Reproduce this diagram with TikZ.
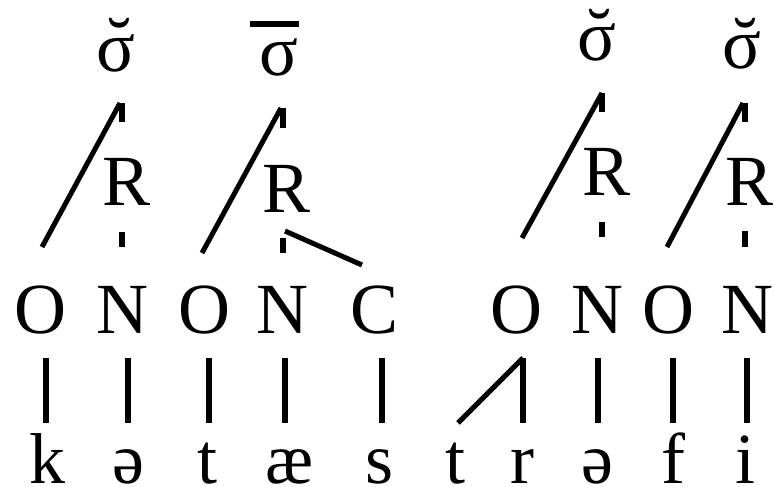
\documentclass[tikz,border=0pt]{standalone}
\usepackage{fontspec}
\setmainfont{Liberation Serif}
\usetikzlibrary{calc}
\begin{document}
\begin{tikzpicture}[x=1pt,y=-1pt,
  lbl/.style={font=\fontsize{72}{80}\selectfont, inner sep=0pt, anchor=base},
  vline/.style={line width=6pt},
  dline/.style={line width=5pt}]
\useasboundingbox (0,0) rectangle (774,487);
% syllable row
\node[lbl] (s1) at (116,71) {σ};
\node[lbl] (b1) at (119,67) {˘};
\node[lbl] (s2) at (279,76) {σ};
\coordinate (bar2a) at (250,24);
\coordinate (bar2b) at (299,24);
\draw[line width=6pt] (bar2a) -- (bar2b);
\node[lbl] (s3) at (597,61) {σ};
\node[lbl] (b3) at (599,59) {˘};
\node[lbl] (s4) at (742,69) {σ};
\node[lbl] (b4) at (745,67) {˘};
% rhyme row
\node[lbl] (R1) at (127,205) {R};
\node[lbl] (R2) at (287,212) {R};
\node[lbl] (R3) at (607,195) {R};
\node[lbl] (R4) at (750,205) {R};
% O N row
\node[lbl] (O1) at (40,333) {O};
\node[lbl] (N1) at (122,333) {N};
\node[lbl] (O2) at (204,333) {O};
\node[lbl] (N2) at (282,333) {N};
\node[lbl] (C2) at (375,333) {C};
\node[lbl] (O3) at (516,333) {O};
\node[lbl] (N3) at (597,333) {N};
\node[lbl] (O4) at (668,333) {O};
\node[lbl] (N4) at (747,333) {N};
% segments
\node[lbl] (k) at (47,483) {k};
\node[lbl] (e1) at (128,483) {ə};
\node[lbl] (t1) at (207,483) {t};
\node[lbl] (ae) at (290,483) {æ};
\node[lbl] (s) at (380,483) {s};
\node[lbl] (t2) at (455,483) {t};
\node[lbl] (r) at (522,483) {r};
\node[lbl] (e2) at (597,483) {ə};
\node[lbl] (f) at (673,483) {f};
\node[lbl] (i) at (745,483) {i};
% junction coordinates
\coordinate (j1) at (122,103); \coordinate (j1b) at (122,122);
\coordinate (r1a) at (122,232); \coordinate (r1b) at (122,247);
\coordinate (o1) at (42,247);
\coordinate (j2) at (283,108); \coordinate (j2b) at (283,128);
\coordinate (r2a) at (283,238); \coordinate (r2b) at (283,253);
\coordinate (o2) at (202,253);
\coordinate (c2a) at (285,231); \coordinate (c2b) at (362,265);
\coordinate (j3) at (602,93); \coordinate (j3b) at (602,112);
\coordinate (r3a) at (602,222); \coordinate (r3b) at (602,237);
\coordinate (o3) at (522,238);
\coordinate (j4) at (745,103); \coordinate (j4b) at (745,122);
\coordinate (r4a) at (745,231); \coordinate (r4b) at (745,247);
\coordinate (o4) at (667,247);
% upper connectors
\draw[dline] (o1) -- ($(j1)+(-2,0)$);
\draw[vline] (j1) -- (j1b);
\draw[vline] (r1a) -- (r1b);
\draw[dline] (o2) -- ($(j2)+(-2,0)$);
\draw[vline] (j2) -- (j2b);
\draw[vline] (r2a) -- (r2b);
\draw[dline] (c2a) -- (c2b);
\draw[dline] (o3) -- (j3);
\draw[vline] (j3) -- (j3b);
\draw[vline] (r3a) -- (r3b);
\draw[dline] (o4) -- ($(j4)+(-2,0)$);
\draw[vline] (j4) -- (j4b);
\draw[vline] (r4a) -- (r4b);
% lower connectors
\coordinate (kT) at (46,358);   \coordinate (kB) at (46,423);
\coordinate (e1T) at (128,358); \coordinate (e1B) at (128,423);
\coordinate (t1T) at (209,358); \coordinate (t1B) at (209,423);
\coordinate (aeT) at (285,358); \coordinate (aeB) at (285,423);
\coordinate (sT) at (382,358);  \coordinate (sB) at (382,423);
\coordinate (rT) at (523,358);  \coordinate (rB) at (523,423);
\coordinate (e2T) at (598,358); \coordinate (e2B) at (598,423);
\coordinate (fT) at (673,358);  \coordinate (fB) at (673,423);
\coordinate (iT) at (747,358);  \coordinate (iB) at (747,423);
\coordinate (t2T) at (458,423);
\draw[vline] (kT) -- (kB);
\draw[vline] (e1T) -- (e1B);
\draw[vline] (t1T) -- (t1B);
\draw[vline] (aeT) -- (aeB);
\draw[vline] (sT) -- (sB);
\draw[vline] (rT) -- (rB);
\draw[vline] (e2T) -- (e2B);
\draw[vline] (fT) -- (fB);
\draw[vline] (iT) -- (iB);
\draw[dline] (t2T) -- (rT);
\end{tikzpicture}
\end{document}
